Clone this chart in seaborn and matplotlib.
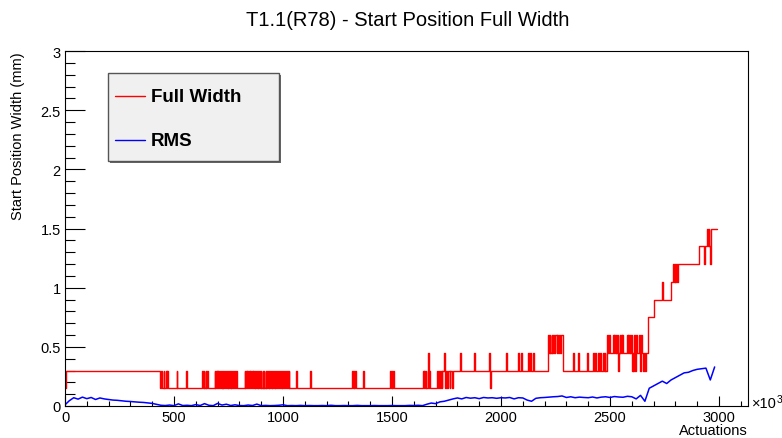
import matplotlib
matplotlib.use("Agg")
from matplotlib import pyplot as plt
from matplotlib.ticker import MultipleLocator
from matplotlib.patches import Rectangle
from matplotlib.lines import Line2D
import pandas as pd
import seaborn as sns

# Full width: base level (steps) + short excursions, in actuations (x1000 shown as x10^3)
fw_base_x = [0, 3, 436, 1706, 2216, 2248, 2284, 2486, 2674, 2702, 2780, 2812, 2908, 2963]
fw_base_y = [0.15, 0.3, 0.15, 0.3, 0.45, 0.6, 0.3, 0.45, 0.75, 0.9, 1.05, 1.2, 1.35, 1.5]
fw_end = 2990

fw_spike_x = [440, 452, 465, 470, 513, 555, 628, 636, 645, 652,
              686, 692, 698, 704, 712, 718, 724, 730, 738, 746, 752, 760, 768, 776, 784,
              824, 830, 836, 844, 850, 858, 864, 870, 878, 884, 892, 898, 906, 912, 920,
              926, 934, 940, 948, 956, 962, 970, 978, 986, 994, 1002, 1010, 1018, 1026,
              1060, 1124, 1317, 1324, 1330, 1367, 1491, 1498, 1505,
              1642, 1648, 1655, 1665, 1672,
              1711, 1720, 1728, 1739, 1745, 1752, 1765, 1775,
              1812, 1876, 1945, 1950, 2023, 2078, 2092, 2124, 2133, 2147,
              2217, 2224, 2232, 2240, 2255, 2262, 2270,
              2330, 2353, 2394, 2422, 2432, 2445, 2454, 2468, 2476,
              2488, 2496, 2514, 2520, 2526, 2532, 2537, 2544, 2550, 2556, 2578, 2584,
              2590, 2596, 2601, 2606, 2610, 2615, 2620, 2633, 2638, 2642, 2651, 2660,
              2740, 2789, 2796, 2803, 2931, 2945, 2952, 2958]
fw_spike_y = [0.3, 0.3, 0.3, 0.3, 0.3, 0.3, 0.3, 0.3, 0.3, 0.3,
              0.3, 0.3, 0.3, 0.3, 0.3, 0.3, 0.3, 0.3, 0.3, 0.3, 0.3, 0.3, 0.3, 0.3, 0.3,
              0.3, 0.3, 0.3, 0.3, 0.3, 0.3, 0.3, 0.3, 0.3, 0.3, 0.3, 0.3, 0.3, 0.3, 0.3,
              0.3, 0.3, 0.3, 0.3, 0.3, 0.3, 0.3, 0.3, 0.3, 0.3, 0.3, 0.3, 0.3, 0.3,
              0.3, 0.3, 0.3, 0.3, 0.3, 0.3, 0.3, 0.3, 0.3,
              0.3, 0.3, 0.3, 0.45, 0.3,
              0.15, 0.15, 0.15, 0.45, 0.15, 0.15, 0.15, 0.15,
              0.45, 0.45, 0.45, 0.15, 0.45, 0.45, 0.45, 0.45, 0.45, 0.45,
              0.6, 0.6, 0.6, 0.6, 0.45, 0.45, 0.45,
              0.45, 0.45, 0.45, 0.45, 0.45, 0.45, 0.45, 0.45, 0.45,
              0.6, 0.6, 0.6, 0.6, 0.6, 0.6, 0.3, 0.6, 0.6, 0.6, 0.6, 0.6,
              0.6, 0.6, 0.3, 0.3, 0.6, 0.3, 0.6, 0.6, 0.3, 0.6, 0.3, 0.3,
              1.05, 1.2, 1.2, 1.2, 1.2, 1.5, 1.5, 1.2]

# RMS, sampled every 20 actuations from 0 to 2980
rms_x = list(range(0, 3000, 20))
rms_y = [0.010, 0.045, 0.070, 0.058, 0.075, 0.062, 0.072, 0.055, 0.068, 0.060,
         0.055, 0.050, 0.048, 0.044, 0.040, 0.038, 0.035, 0.032, 0.030, 0.026,
         0.022, 0.014, 0.006, 0.004, 0.008, 0.003, 0.018, 0.004, 0.006, 0.003,
         0.012, 0.004, 0.020, 0.006, 0.003, 0.022, 0.008, 0.015, 0.004, 0.010,
         0.004, 0.003, 0.008, 0.004, 0.016, 0.003, 0.005, 0.003, 0.004, 0.006,
         0.010, 0.003, 0.004, 0.003, 0.005, 0.003, 0.004, 0.003, 0.003, 0.004,
         0.003, 0.006, 0.003, 0.003, 0.004, 0.003, 0.003, 0.005, 0.003, 0.003,
         0.003, 0.004, 0.003, 0.003, 0.003, 0.004, 0.003, 0.003, 0.003, 0.005,
         0.004, 0.006, 0.003, 0.015, 0.025, 0.020, 0.035, 0.040, 0.050, 0.060,
         0.068, 0.060, 0.072, 0.066, 0.070, 0.062, 0.072, 0.068, 0.070, 0.065,
         0.070, 0.068, 0.072, 0.060, 0.070, 0.068, 0.050, 0.040, 0.065, 0.070,
         0.072, 0.075, 0.078, 0.080, 0.085, 0.072, 0.078, 0.070, 0.075, 0.072,
         0.070, 0.076, 0.068, 0.075, 0.078, 0.072, 0.080, 0.076, 0.074, 0.082,
         0.078, 0.060, 0.090, 0.040, 0.150, 0.170, 0.190, 0.210, 0.190, 0.220,
         0.240, 0.260, 0.280, 0.285, 0.300, 0.310, 0.315, 0.320, 0.220, 0.330]

x_ticks = [0, 500, 1000, 1500, 2000, 2500, 3000]
x_labels = ["0", "500", "1000", "1500", "2000", "2500", "3000"]
y_ticks = [0, 0.5, 1, 1.5, 2, 2.5, 3]
y_labels = ["0", "0.5", "1", "1.5", "2", "2.5", "3"]


def build_steps(bx, by, sx, sy, end, width=3):
    pts = []
    for i in range(len(bx)):
        x0 = bx[i]
        x1 = bx[i + 1] if i + 1 < len(bx) else end
        pts.append((x0, by[i]))
        for x, y in zip(sx, sy):
            if x0 <= x < x1:
                pts.append((x, y))
                pts.append((min(x + width, x1), by[i]))
    pts.append((end, by[-1]))
    pts.sort(key=lambda p: p[0])
    return pd.DataFrame(pts, columns=["x", "y"])


fw = build_steps(fw_base_x, fw_base_y, fw_spike_x, fw_spike_y, fw_end)
rms = pd.DataFrame({"x": rms_x, "y": rms_y})

sns.set_style("ticks")
plt.rcParams["font.family"] = ["Liberation Sans", "DejaVu Sans"]
plt.rcParams["text.color"] = "black"
plt.rcParams["xtick.color"] = "black"
plt.rcParams["ytick.color"] = "black"

W, H = 782, 439
fig = plt.figure(figsize=(W / 100, H / 100), dpi=100)
ax = fig.add_axes([65 / W, 1 - 407 / H, 683 / W, 355 / H])

sns.lineplot(data=fw, x="x", y="y", ax=ax, color="#ff0000", lw=1.0,
             drawstyle="steps-post", estimator=None, sort=False, legend=False)
sns.lineplot(data=rms, x="x", y="y", ax=ax, color="#0000ff", lw=1.1,
             estimator=None, sort=False, legend=False)

ax.set_xlim(0, 3133)
ax.set_ylim(0, 3)
ax.set_xticks(x_ticks)
ax.set_xticklabels(x_labels)
ax.set_yticks(y_ticks)
ax.set_yticklabels(y_labels)
ax.xaxis.set_minor_locator(MultipleLocator(100))
ax.yaxis.set_minor_locator(MultipleLocator(0.1))
ax.tick_params(axis="both", which="both", direction="in", top=False, right=False,
               labelsize=10.5, colors="black", labelcolor="black", width=0.8)
ax.tick_params(axis="x", which="major", length=7.5, pad=3)
ax.tick_params(axis="x", which="minor", length=3.8)
ax.tick_params(axis="y", which="major", length=14.5, pad=3)
ax.tick_params(axis="y", which="minor", length=7.3)
for sp in ax.spines.values():
    sp.set_visible(True)
    sp.set_color("black")
    sp.set_linewidth(0.8)

ax.set_xlabel("")
ax.set_ylabel("")
fig.text(748 / W, 1 - 435 / H, "Actuations", ha="right", va="baseline", fontsize=10.5,
         color="black")
fig.text(752 / W, 1 - 408 / H, "\u00d710", ha="left", va="baseline", fontsize=10.5,
         color="black")
fig.text(777 / W, 1 - 403 / H, "3", ha="left", va="baseline", fontsize=7.5,
         color="black")
fig.text(18 / W, 1 - 52 / H, "Start Position Width (mm)", rotation=90,
         ha="center", va="top", fontsize=10.5, color="black")
fig.text(408 / W, 1 - 20 / H, "T1.1(R78) - Start Position Full Width",
         ha="center", va="center", fontsize=14.5, color="black")

# legend box drawn in pixel positions like the ROOT TLegend
fig.patches.append(Rectangle((109.5 / W, 1 - 163.5 / H), 171 / W, 88 / H,
                             transform=fig.transFigure, facecolor="#666666",
                             edgecolor="none", zorder=5))
fig.patches.append(Rectangle((108 / W, 1 - 162 / H), 171 / W, 88 / H,
                             transform=fig.transFigure, facecolor="#f0f0f0",
                             edgecolor="#555555", lw=1.0, zorder=6))
for yy, col, lab in [(97, "#ff0000", "Full Width"), (141, "#0000ff", "RMS")]:
    fig.lines.append(Line2D([115 / W, 145 / W], [1 - yy / H, 1 - yy / H],
                            transform=fig.transFigure, color=col, lw=1.0, zorder=7))
    fig.text(151 / W, 1 - yy / H, lab, ha="left", va="center", fontsize=13.5,
             fontweight="bold", color="black", zorder=7)

fig.savefig("out.png", dpi=100)
